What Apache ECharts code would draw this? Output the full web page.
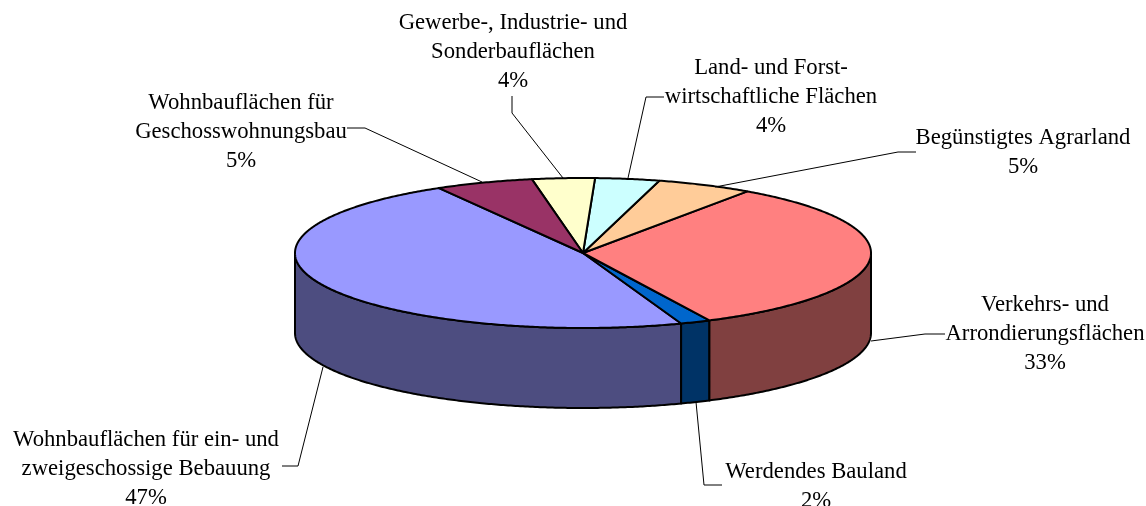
<!DOCTYPE html>
<html>
<head>
<meta charset="utf-8">
<style>
html, body { margin: 0; padding: 0; background: #fff; }
#main { width: 1146px; height: 506px; }
</style>
<script src="https://cdn.jsdelivr.net/npm/echarts@6/dist/echarts.min.js"></script>
</head>
<body>
<div id="main"></div>
<script>
// slices in drawing order, counter-clockwise from the back left
var names = [
    'Wohnbauflächen für ein- und\nzweigeschossige Bebauung',
    'Werdendes Bauland',
    'Verkehrs- und\nArrondierungsflächen',
    'Begünstigtes Agrarland',
    'Land- und Forst-\nwirtschaftliche Flächen',
    'Gewerbe-, Industrie- und\nSonderbauflächen',
    'Wohnbauflächen für\nGeschosswohnungsbau'
];
var shares = [47.2, 1.7, 33.1, 5.4, 3.6, 3.51, 5.49];
var topColors = ['#9999FF', '#0066CC', '#FF8080', '#FFCC99', '#CCFFFF', '#FFFFCC', '#993366'];
var sideColors = ['#4D4D80', '#003366', '#804040', '#806650', '#668080', '#808066', '#4D1A33'];

// label centres and leader lines, same order as names
var labelPos = [[146, 439], [816, 471], [1045, 304], [1023, 137], [771, 67], [513, 22], [241, 102]];
var leaders = [
    [[282, 466], [298, 466], [323, 367]],
    [[722, 485], [704, 485], [696, 402]],
    [[945, 334], [925, 334], [871, 341]],
    [[916, 152], [898, 152], [715, 187]],
    [[664, 97], [646, 97], [628, 178]],
    [[512, 96], [512, 113], [563, 178]],
    [[347, 128], [365, 128], [482, 182]]
];

var cx = 583, cy = 253, rx = 288, ry = 75, depth = 80, startAngle = 120;
var total = shares.reduce(function (a, b) { return a + b; }, 0);

function rim(deg, drop) {
    var t = deg * Math.PI / 180;
    return [cx + rx * Math.cos(t), cy - ry * Math.sin(t) + (drop || 0)];
}

function arc(from, to, drop) {
    var pts = [];
    var n = Math.max(2, Math.ceil((to - from) * 2));
    for (var i = 0; i <= n; i++) {
        pts.push(rim(from + (to - from) * i / n, drop));
    }
    return pts;
}

function renderSlice(params, api) {
    var i = params.dataIndex;
    var sum = 0;
    for (var k = 0; k < i; k++) sum += shares[k];
    var a0 = startAngle + sum / total * 360;
    var a1 = a0 + api.value(0) / total * 360;
    var children = [];
    var wallFrom = Math.max(a0, 180), wallTo = Math.min(a1, 360);
    var lineStyle = { stroke: '#000', lineWidth: 2, lineJoin: 'round' };
    if (wallTo > wallFrom) {
        children.push({
            type: 'polygon',
            shape: { points: arc(wallFrom, wallTo, 0).concat(arc(wallFrom, wallTo, depth).reverse()) },
            style: Object.assign({ fill: sideColors[i] }, lineStyle)
        });
    }
    children.push({
        type: 'polygon',
        shape: { points: [[cx, cy]].concat(arc(a0, a1, 0)) },
        style: Object.assign({ fill: topColors[i] }, lineStyle)
    });
    return { type: 'group', children: children };
}

var graphics = [];
names.forEach(function (name, i) {
    graphics.push({
        type: 'polyline',
        shape: { points: leaders[i] },
        style: { stroke: '#000', lineWidth: 1, fill: null },
        z: 5
    });
    graphics.push({
        type: 'text',
        x: labelPos[i][0],
        y: labelPos[i][1] - 13,
        style: {
            text: name + '\n' + Math.round(shares[i]) + '%',
            fill: '#000',
            font: '22.7px "Liberation Serif"',
            align: 'center',
            verticalAlign: 'top',
            lineHeight: 29
        },
        z: 6
    });
});

var myChart = echarts.init(document.getElementById('main'));
myChart.setOption({
    animation: false,
    backgroundColor: '#fff',
    graphic: graphics,
    series: [{
        type: 'custom',
        coordinateSystem: 'none',
        renderItem: renderSlice,
        silent: true,
        data: shares.map(function (v) { return [v]; })
    }]
});
</script>
</body>
</html>
